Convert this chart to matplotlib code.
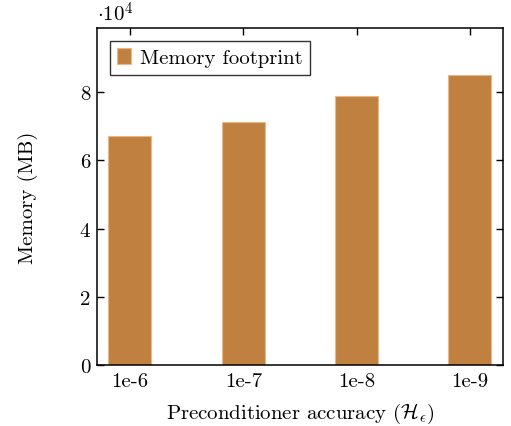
import matplotlib
matplotlib.use('Agg')
import matplotlib.pyplot as plt
from matplotlib.ticker import FuncFormatter

plt.rcParams['font.family'] = 'serif'
plt.rcParams['font.serif'] = ['cmr10', 'DejaVu Serif']
plt.rcParams['mathtext.fontset'] = 'cm'
plt.rcParams['axes.formatter.use_mathtext'] = True

# data
accuracy = ['1e-6', '1e-7', '1e-8', '1e-9']
memory_mb = [67100, 71100, 78900, 85100]

bar_color = '#C08040'

fig = plt.figure(figsize=(5.11, 4.27), dpi=100)
ax = fig.add_axes([0.19, 0.143, 0.794, 0.789])

xpos = range(len(accuracy))
ax.bar(xpos, memory_mb, width=0.38, color=bar_color, edgecolor='#E8B888',
       linewidth=0.8, label='Memory footprint', zorder=2)

ax.set_xlim(-0.29, 3.29)
ax.set_ylim(0, 98800)
ax.set_xticks(list(xpos))
ax.set_xticklabels(accuracy)
ax.set_yticks([0, 20000, 40000, 60000, 80000])
ax.yaxis.set_major_formatter(FuncFormatter(lambda v, p: '%d' % round(v / 1e4)))

ax.tick_params(axis='both', direction='in', top=True, right=True,
               length=5, width=1.0, labelsize=15, pad=5)
ax.tick_params(axis='x', top=True, bottom=False)
for s in ax.spines.values():
    s.set_linewidth(1.1)

ax.text(0.0, 1.01, r'$\cdot 10^4$', transform=ax.transAxes, fontsize=15,
        ha='left', va='bottom')

ax.set_xlabel(r'Preconditioner accuracy ($\mathcal{H}_\epsilon$)', fontsize=15, labelpad=8)
ax.set_ylabel('Memory (MB)', fontsize=15, labelpad=30)

leg = ax.legend(loc='upper left', fontsize=15, frameon=True, fancybox=False,
                edgecolor='black', handlelength=0.7, handleheight=0.85,
                handletextpad=0.4, borderpad=0.35, borderaxespad=0.6)
leg.get_frame().set_linewidth(1.0)

plt.savefig('out.png', dpi=100)
